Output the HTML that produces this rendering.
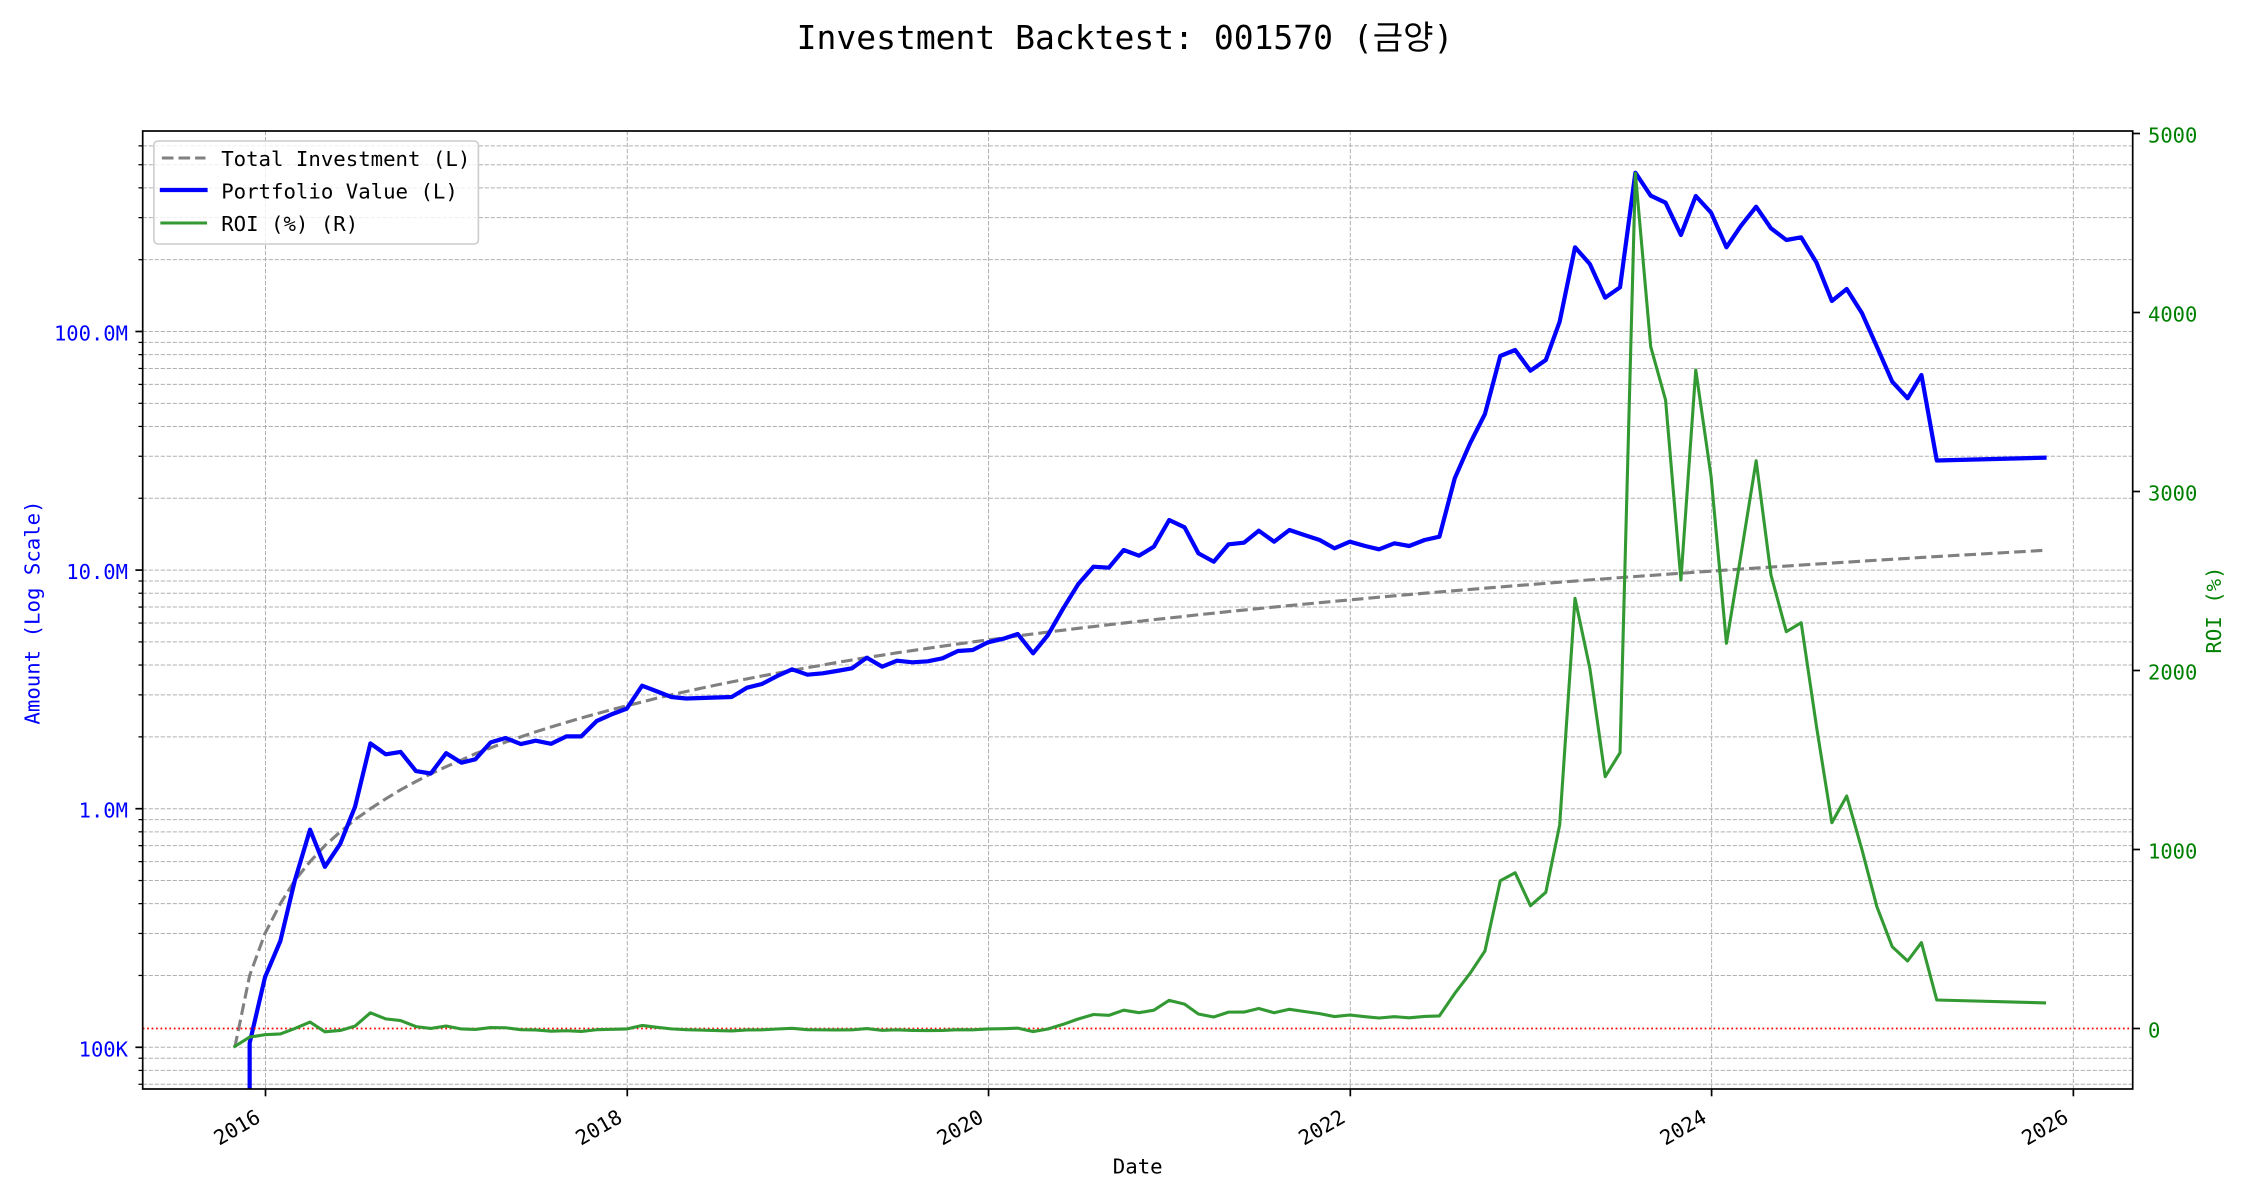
<!DOCTYPE html>
<html>
<head>
<meta charset="utf-8">
<style>
html,body{margin:0;padding:0;background:#fff;}
svg{display:block;}
text{font-family:"DejaVu Sans Mono","Liberation Mono","Noto Sans CJK KR","NanumGothic",monospace;}
</style>
</head>
<body>
<svg id="s" xmlns="http://www.w3.org/2000/svg" width="2250" height="1200" viewBox="0 0 2250 1200">
<defs><clipPath id="c"><rect x="142.7" y="131" width="1990" height="958"/></clipPath></defs>
<rect x="0" y="0" width="2250" height="1200" fill="#fff"/>
<g id="grid"></g>
<g id="lines" clip-path="url(#c)"></g>
<rect x="142.7" y="131" width="1990" height="958" fill="none" stroke="#000" stroke-width="1.7"/>
<g id="ticks"></g>

<!-- legend -->
<rect x="153.9" y="141" width="324.5" height="103" rx="4" ry="4" fill="#fff" fill-opacity="0.8" stroke="#cccccc" stroke-width="1.6"/>
<line x1="161.9" y1="158" x2="205.5" y2="158" stroke="#808080" stroke-width="3.1" stroke-dasharray="11.6 5"/>
<line x1="161.9" y1="190" x2="205.5" y2="190" stroke="#0000ff" stroke-width="4.2" stroke-linecap="square"/>
<line x1="161.9" y1="223" x2="205.5" y2="223" stroke="#339933" stroke-width="3.1" stroke-linecap="square"/>
<text x="221.2" y="166" font-size="20.7" fill="#000">Total Investment (L)</text>
<text x="221.2" y="198.7" font-size="20.7" fill="#000">Portfolio Value (L)</text>
<text x="221.2" y="231" font-size="20.7" fill="#000">ROI (%) (R)</text>

<!-- title -->
<text x="1125" y="49" font-size="33" text-anchor="middle" fill="#000">Investment Backtest: 001570 (금양)</text>

<!-- left tick labels -->
<g font-size="20.5" fill="#0000ff" text-anchor="end">
<text x="128" y="1056.3">100K</text>
<text x="128" y="817.7">1.0M</text>
<text x="128" y="579.1">10.0M</text>
<text x="128" y="340.5">100.0M</text>
</g>
<!-- right tick labels -->
<g font-size="20.5" fill="#008000" text-anchor="start">
<text x="2148" y="1037.5">0</text>
<text x="2148" y="858.5">1000</text>
<text x="2148" y="679.5">2000</text>
<text x="2148" y="500.5">3000</text>
<text x="2148" y="321.5">4000</text>
<text x="2148" y="142.5">5000</text>
</g>
<!-- x tick labels -->
<g font-size="20.5" fill="#000" text-anchor="middle">
<text transform="translate(237,1127.5) rotate(-30)" x="0" y="7">2016</text>
<text transform="translate(598.8,1127.5) rotate(-30)" x="0" y="7">2018</text>
<text transform="translate(960.1,1127.5) rotate(-30)" x="0" y="7">2020</text>
<text transform="translate(1321.8,1127.5) rotate(-30)" x="0" y="7">2022</text>
<text transform="translate(1683.1,1127.5) rotate(-30)" x="0" y="7">2024</text>
<text transform="translate(2044.9,1127.5) rotate(-30)" x="0" y="7">2026</text>
</g>
<!-- axis labels -->
<text x="1137.7" y="1173.5" font-size="20.7" text-anchor="middle" fill="#000">Date</text>
<text transform="translate(39.3,612.5) rotate(-90)" x="0" y="0" font-size="20.7" text-anchor="middle" fill="#0000ff">Amount (Log Scale)</text>
<text transform="translate(2221,610) rotate(-90)" x="0" y="0" font-size="20.7" text-anchor="middle" fill="#008000">ROI (%)</text>
</svg>

<script>
(function(){
var NS='http://www.w3.org/2000/svg';
function el(p,tag,a){var e=document.createElementNS(NS,tag);for(var k in a)e.setAttribute(k,a[k]);p.appendChild(e);return e;}
var L=142.7,R=2132.7,T=131,B=1089;
function yL(v){return 1047.3-(Math.log10(v)-5)*238.6;}
function yR(r){return 1028.5-r*0.179;}
var X0=265.5,PXD=0.4949,D0=Date.UTC(2016,0,1);
function xd(t){return X0+(t-D0)/864e5*PXD;}
function xm(i){if(i===120)return 2044.5;return xd(Date.UTC(2015,10+i,0));}
var grid=document.getElementById('grid'),ticks=document.getElementById('ticks'),lines=document.getElementById('lines');
var gs={stroke:'#b0b0b0','stroke-width':'1','stroke-dasharray':'4.2 1.8'};
function gl(x1,y1,x2,y2){var a={x1:x1,y1:y1,x2:x2,y2:y2};for(var k in gs)a[k]=gs[k];el(grid,'line',a);}
// horizontal log grid + left ticks
for(var d=4;d<=8;d++){for(var k=1;k<=9;k++){var v=k*Math.pow(10,d);var y=yL(v);
 if(y>T+0.5&&y<B-0.5){gl(L,y,R,y);
  if(k===1)el(ticks,'line',{x1:L-7.3,y1:y,x2:L,y2:y,stroke:'#000','stroke-width':'1.7'});
  else el(ticks,'line',{x1:L-4.2,y1:y,x2:L,y2:y,stroke:'#000','stroke-width':'1.25'});
 }}}
// vertical year grid + bottom ticks
for(var yr=2016;yr<=2026;yr+=2){var x=xd(Date.UTC(yr,0,1));gl(x,T,x,B);
 el(ticks,'line',{x1:x,y1:B,x2:x,y2:B+7.3,stroke:'#000','stroke-width':'1.7'});}
// right ticks
for(var r=0;r<=5000;r+=1000){var y=yR(r);el(ticks,'line',{x1:R,y1:y,x2:R+7.3,y2:y,stroke:'#000','stroke-width':'1.7'});}

var blue={1:1043,2:977.2,3:941,4:881,5:829.6,6:866.8,7:843.8,8:806.6,9:743.4,10:754.3,11:751.9,12:771.1,13:773.5,14:753.2,15:762.7,16:759.3,17:742.4,18:738,19:744.1,20:740.7,21:743.8,22:736.4,23:736.4,24:721.1,25:714.4,26:708.6,27:685.7,28:691,29:697,30:698.5,31:698,32:697.5,33:697,34:687.7,35:684,36:676,37:669.3,38:674.7,39:673.3,40:671,41:668.3,42:657.7,43:666.7,44:660.7,45:662.3,46:661.3,47:658.3,48:651,49:650,50:642.3,51:638.7,52:634,53:653.3,54:635,55:608.3,56:584.3,57:566.7,58:567.7,59:550,60:555.7,61:546.7,62:520,63:527.3,64:553.3,65:561.7,66:544.3,67:542.7,68:530.7,69:541.7,70:530,71:535,72:540,73:548.3,74:541.7,75:546,76:549.3,77:543.3,78:546,79:540,80:536.7,81:478.3,82:443.3,83:414,84:356,85:350,86:370.7,87:360,88:321.7,89:247.3,90:264,91:297.7,92:287.3,93:172.7,94:195.7,95:202.7,96:235,97:196,98:212.7,99:247.3,100:226,101:206.7,102:228.3,103:240,104:237.3,105:262.7,106:301,107:289,108:313.3,109:346.7,110:381.7,111:398.3,112:375,113:460.5,120:457.7};
var gOver={82:973.3,83:951,84:880.7,85:872.7,86:905.7,87:892.3,88:825,89:598.3,90:668.3,91:776.7,92:752.7,93:173.3,94:346.7,95:400,96:580,97:370,98:476.7,99:643.3,100:556,101:460.7,102:575,103:631.7,104:622.7,105:726.7,106:822.7,107:796,108:850,109:906.7,110:946.7,111:961,112:942.6,113:1000,120:1002.9};
var idx=[];for(var i=0;i<=113;i++)idx.push(i);idx.push(120);

// gray total investment
var pg='';idx.forEach(function(i,n){var x=xm(i),y=yL(100000*(i+1));pg+=(n?'L':'M')+x.toFixed(2)+','+y.toFixed(2);});
el(lines,'path',{d:pg,fill:'none',stroke:'#808080','stroke-width':'3.1','stroke-dasharray':'11.6 5'});

// blue portfolio
var x1=xm(1);var pb='M'+x1.toFixed(2)+',1100';
idx.forEach(function(i){if(i===0)return;pb+='L'+xm(i).toFixed(2)+','+blue[i].toFixed(2);});
el(lines,'path',{d:pb,fill:'none',stroke:'#0000ff','stroke-width':'4.2','stroke-linejoin':'round','stroke-linecap':'square'});

// red zero line
el(lines,'line',{x1:L,y1:yR(0),x2:R,y2:yR(0),stroke:'#ff0000','stroke-width':'1.7','stroke-dasharray':'1.7 2.75'});

// green ROI
var pr='';idx.forEach(function(i,n){var y;
 if(i===0)y=yR(-100);
 else if(gOver[i]!==undefined)y=gOver[i];
 else{var pv=Math.pow(10,5+(1047.3-blue[i])/238.6);var ti=100000*(i+1);y=yR((pv/ti-1)*100);}
 pr+=(n?'L':'M')+xm(i).toFixed(2)+','+y.toFixed(2);});
el(lines,'path',{d:pr,fill:'none',stroke:'#339933','stroke-width':'3.1','stroke-linejoin':'round','stroke-linecap':'square'});
})();
</script>
</body>
</html>
